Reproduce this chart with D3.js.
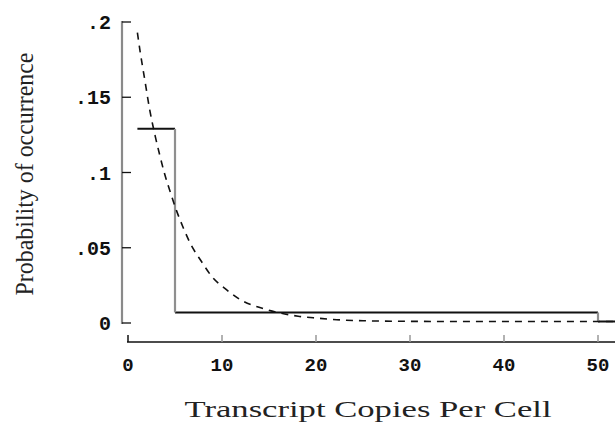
<!DOCTYPE html>
<html><head><meta charset="utf-8">
<script src="https://cdn.jsdelivr.net/npm/d3@7"></script>
<style>body{margin:0;background:#fff}svg{display:block}</style>
</head><body>
<script>
// Data
const xTicks = [0, 10, 20, 30, 40, 50];
const yTicks = [0, 0.05, 0.1, 0.15, 0.2];
const yTickLabels = ["0", ".05", ".1", ".15", ".2"];
// step distribution (x = copies per cell, p = probability)
const stepX = [1, 5, 50, 52];
const stepP = [0.129, 0.007, 0.001, 0.001];
// dashed curve
const curveX = [1.0, 1.3, 1.8, 2.3, 2.9, 3.4, 3.9, 4.5, 5.2, 5.9, 6.7, 7.8, 8.9, 10.5, 12.2, 14.2, 16.2, 18.1, 20.2, 22.2, 25, 30, 35, 40, 45, 50, 52];
const curveP = [0.193, 0.180, 0.161, 0.142, 0.124, 0.111, 0.099, 0.087, 0.074, 0.063, 0.052, 0.041, 0.031, 0.022, 0.0146, 0.0099, 0.0066, 0.0045, 0.0032, 0.0022, 0.0015, 0.0011, 0.001, 0.001, 0.001, 0.001, 0.001];

const W = 615, H = 423;
const svg = d3.select("body").append("svg").attr("width", W).attr("height", H);

const x = d3.scaleLinear().domain([0, 50]).range([128, 598]);
const y = d3.scaleLinear().domain([0, 0.2]).range([323, 22]);

const monoFont = "'Liberation Mono', 'DejaVu Sans Mono', monospace";

// Y axis
const yAxisX = 122;
svg.append("line").attr("x1", yAxisX).attr("x2", yAxisX).attr("y1", y(0.2) - 1).attr("y2", y(0) + 1)
  .attr("stroke", "#8a8a8a").attr("stroke-width", 2.2);
yTicks.forEach((t, i) => {
  svg.append("line").attr("x1", yAxisX).attr("x2", yAxisX + 9).attr("y1", y(t)).attr("y2", y(t))
    .attr("stroke", "#111").attr("stroke-width", 1.3);
  svg.append("text").attr("x", 111).attr("y", y(t)).attr("dy", "0.36em")
    .attr("text-anchor", "end")
    .attr("font-family", monoFont)
    .attr("font-weight", "bold").attr("font-size", 20).attr("fill", "#111")
    .text(yTickLabels[i]);
});

// X axis
const xAxisY = 342;
svg.append("line").attr("x1", 127).attr("x2", W).attr("y1", xAxisY).attr("y2", xAxisY)
  .attr("stroke", "#111").attr("stroke-width", 1.5);
xTicks.forEach(t => {
  svg.append("line").attr("x1", x(t)).attr("x2", x(t)).attr("y1", xAxisY).attr("y2", xAxisY - 7)
    .attr("stroke", t === 0 ? "#111" : "#999").attr("stroke-width", 1.5);
  svg.append("text").attr("x", x(t)).attr("y", 371)
    .attr("text-anchor", "middle")
    .attr("font-family", monoFont)
    .attr("font-weight", "bold").attr("font-size", 19).attr("fill", "#111")
    .text(t);
});

// Step function: horizontal black, vertical grey
for (let i = 0; i < stepX.length - 1; i++) {
  svg.append("line").attr("x1", x(stepX[i])).attr("x2", x(stepX[i + 1]))
    .attr("y1", y(stepP[i])).attr("y2", y(stepP[i]))
    .attr("stroke", "#111").attr("stroke-width", 2);
  if (i > 0) {
    svg.append("line").attr("x1", x(stepX[i])).attr("x2", x(stepX[i]))
      .attr("y1", y(stepP[i - 1])).attr("y2", y(stepP[i]))
      .attr("stroke", "#8f8f8f").attr("stroke-width", 2.2);
  }
}

// Dashed curve
const line = d3.line().x((d, i) => x(curveX[i])).y((d, i) => y(curveP[i])).curve(d3.curveMonotoneX);
svg.append("path").datum(curveP).attr("d", line)
  .attr("fill", "none").attr("stroke", "#111").attr("stroke-width", 1.6)
  .attr("stroke-dasharray", "7,6");

// Labels
svg.append("text").attr("transform", "translate(33,174) rotate(-90)")
  .attr("text-anchor", "middle").attr("font-family", "'Liberation Serif', serif")
  .attr("font-size", 25).attr("fill", "#222")
  .attr("textLength", 243).attr("lengthAdjust", "spacingAndGlyphs")
  .text("Probability of occurrence");
svg.append("text").attr("x", 368).attr("y", 417)
  .attr("text-anchor", "middle").attr("font-family", "'Liberation Serif', serif")
  .attr("font-size", 24).attr("fill", "#222")
  .attr("textLength", 367).attr("lengthAdjust", "spacingAndGlyphs")
  .text("Transcript Copies Per Cell");
</script>
</body></html>
